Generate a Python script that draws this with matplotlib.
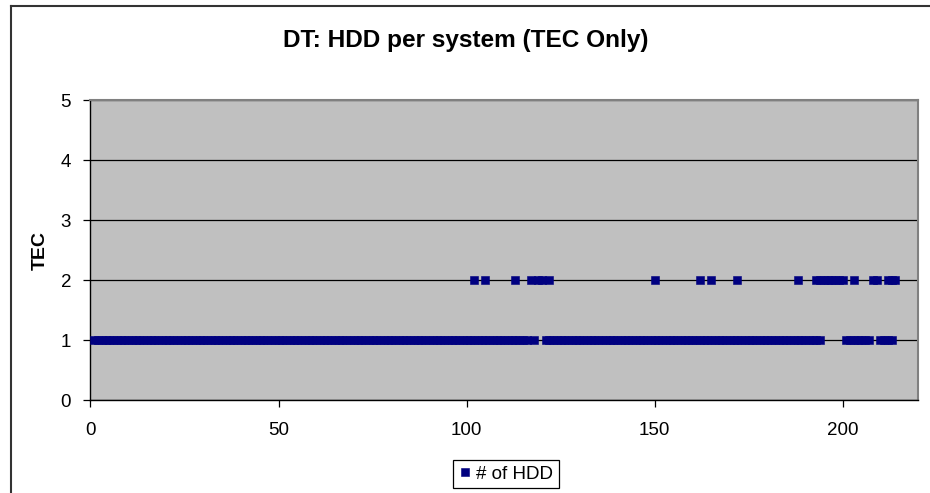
import matplotlib
matplotlib.use("Agg")
import matplotlib.pyplot as plt
from matplotlib.lines import Line2D

plt.rcParams["font.family"] = ["Liberation Sans", "DejaVu Sans"]

# systems (x), grouped by their TEC value
tec1_x = [1, 2, 3, 4, 5, 6, 7, 8, 9, 10, 11, 12, 13, 14, 15, 16, 17, 18, 19, 20,
          21, 22, 23, 24, 25, 26, 27, 28, 29, 30, 31, 32, 33, 34, 35, 36, 37, 38, 39, 40,
          41, 42, 43, 44, 45, 46, 47, 48, 49, 50, 51, 52, 53, 54, 55, 56, 57, 58, 59, 60,
          61, 62, 63, 64, 65, 66, 67, 68, 69, 70, 71, 72, 73, 74, 75, 76, 77, 78, 79, 80,
          81, 82, 83, 84, 85, 86, 87, 88, 89, 90, 91, 92, 93, 94, 95, 96, 97, 98, 99, 100,
          101, 102, 103, 104, 105, 106, 107, 108, 109, 110, 111, 112, 113, 114, 115, 116,
          118,
          121, 122, 123, 124, 125, 126, 127, 128, 129, 130, 131, 132, 133, 134, 135, 136,
          137, 138, 139, 140, 141, 142, 143, 144, 145, 146, 147, 148, 149, 150, 151, 152,
          153, 154, 155, 156, 157, 158, 159, 160, 161, 162, 163, 164, 165, 166, 167, 168,
          169, 170, 171, 172, 173, 174, 175, 176, 177, 178, 179, 180, 181, 182, 183, 184,
          185, 186, 187, 188, 189, 190, 191, 192, 193, 194,
          201, 202, 203, 204, 205, 206, 207,
          210, 211, 212, 213]
tec2_x = [102, 105, 113, 117, 119, 120, 122, 150, 162, 165, 172, 188,
          193, 194, 195, 196, 197, 198, 199, 200, 203, 208, 209, 212, 213, 214]

x_ticks = [0, 50, 100, 150, 200]
y_ticks = [0, 1, 2, 3, 4, 5]

NAVY = "#000080"

fig = plt.figure(figsize=(9.3, 4.93), dpi=100)
ax = fig.add_axes([0.0973, 0.1886, 0.8897, 0.6085])
ax.set_facecolor("#C0C0C0")

xs = tec1_x + tec2_x
ys = [1] * len(tec1_x) + [2] * len(tec2_x)
ax.plot(xs, ys, ls="none", marker="s", ms=6.2, color=NAVY, mec=NAVY, mew=0.4,
        zorder=3, label="# of HDD")

ax.set_xlim(0, 220)
ax.set_ylim(0, 5)
ax.set_xticks(x_ticks)
ax.set_yticks(y_ticks)
ax.yaxis.grid(True, color="black", lw=0.9)
ax.tick_params(direction="out", length=5, width=0.9, labelsize=13.5, color="black")
ax.tick_params(axis="x", pad=11)
ax.tick_params(axis="y", pad=9)
for s in ("left", "bottom"):
    ax.spines[s].set_color("black")
    ax.spines[s].set_linewidth(1.0)
for s in ("top", "right"):
    ax.spines[s].set_color("#808080")
    ax.spines[s].set_linewidth(1.5)

fig.text(466 / 930, 1 - 47 / 493, "DT: HDD per system (TEC Only)", ha="center",
         va="baseline", fontsize=17.6, fontweight="bold")
fig.text(40 / 930, 1 - 250 / 493, "TEC", rotation=90, ha="center", va="center",
         fontsize=14, fontweight="bold")

leg = fig.legend(loc="center", bbox_to_anchor=(506 / 930, 1 - 474 / 493), fontsize=13.5,
                 frameon=True, fancybox=False, framealpha=1, edgecolor="black",
                 handlelength=0.6, handletextpad=0.3, borderpad=0.3, markerscale=0.95,
                 borderaxespad=0)
leg.get_frame().set_linewidth(0.9)

# outer chart-area border (runs off the right and bottom edges)
fig.add_artist(Line2D([11 / 930, 11 / 930], [0, 1 - 6 / 493], color="#333333", lw=1.5))
fig.add_artist(Line2D([11 / 930, 1], [1 - 6 / 493, 1 - 6 / 493], color="#333333", lw=1.5))

fig.savefig("out.png", dpi=100)
